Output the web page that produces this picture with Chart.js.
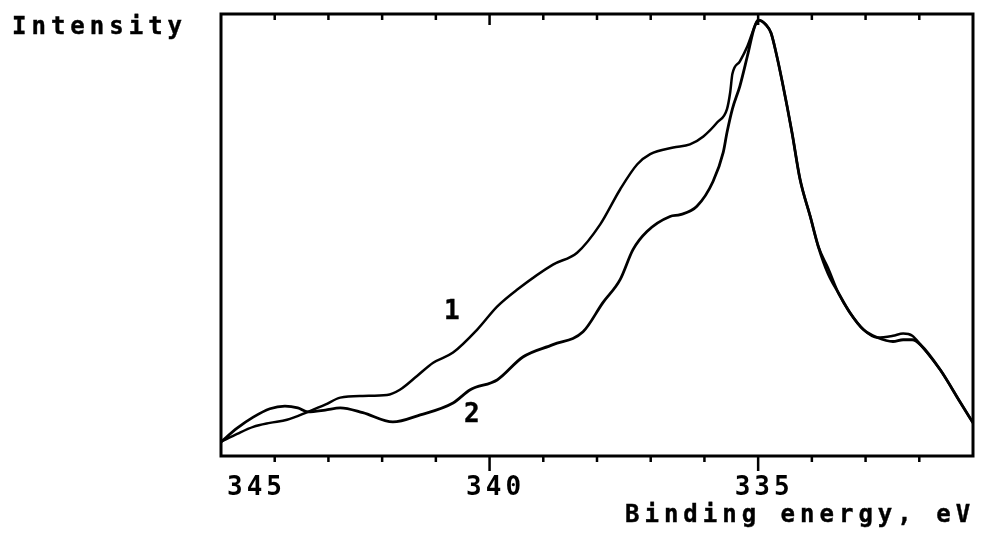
<!DOCTYPE html>
<html>
<head>
<meta charset="utf-8">
<script src="https://cdn.jsdelivr.net/npm/chart.js@4"></script>
<style>
  html, body { margin: 0; padding: 0; background: #fff; }
  #wrap { position: relative; width: 982px; height: 549px; }
  .lbl {
    position: absolute;
    font-family: 'DejaVu Sans Mono', monospace;
    font-weight: bold;
    line-height: 1;
    color: #000;
    white-space: nowrap;
    -webkit-text-stroke: 0.4px #000;
  }
</style>
</head>
<body>
<div id="wrap">
  <canvas id="xps" width="982" height="549"></canvas>
  <div class="lbl" style="left:12px; top:14px; font-size:24px; letter-spacing:5px;">Intensity</div>
  <div class="lbl" style="left:625px; top:502px; font-size:24px; letter-spacing:5px;">Binding energy, eV</div>
  <div class="lbl" style="left:444px; top:297px; font-size:26px;">1</div>
  <div class="lbl" style="left:464px; top:400px; font-size:26px;">2</div>
</div>
<script>
// ── Data (binding energy in eV, intensity in arbitrary units) ──
const ENERGY_1 = [
  345.00, 344.70, 344.40, 344.09, 343.77, 343.38, 343.06, 342.78, 342.36, 341.91,
  341.67, 341.35, 341.05, 340.68, 340.23, 339.86, 339.49, 338.82, 338.37, 337.94,
  337.57, 337.25, 337.01, 336.58, 336.27, 336.02, 335.76, 335.58, 335.52, 335.48,
  335.34, 335.20, 335.06, 335.00, 334.85, 334.76, 334.66, 334.55, 334.37, 334.22,
  334.03, 333.88, 333.70, 333.51, 333.29, 333.04, 332.78, 332.49, 332.30, 332.13,
  331.98, 331.61, 331.24, 331.00
];
const INTENSITY_1 = [
  3.2, 5.0, 6.6, 7.5, 8.2, 10.0, 11.6, 13.2, 13.6, 13.8,
  15.0, 18.1, 21.1, 23.4, 28.6, 33.8, 37.6, 43.3, 46.0, 52.4,
  60.3, 66.0, 68.3, 69.8, 70.5, 72.3, 75.5, 78.5, 82.3, 86.4,
  89.3, 92.7, 97.3, 98.6, 97.5, 95.7, 90.9, 84.6, 73.2, 62.6,
  54.2, 47.4, 42.6, 37.0, 32.4, 28.6, 26.8, 27.2, 27.7, 27.2,
  25.2, 19.5, 12.2, 7.5
];

const ENERGY_2 = [
  345.00, 344.70, 344.40, 344.09, 343.81, 343.57, 343.38, 343.06, 342.78, 342.36,
  341.80, 341.29, 340.68, 340.36, 339.86, 339.38, 338.82, 338.26, 337.89, 337.57,
  337.33, 337.07, 336.64, 336.45, 336.14, 335.84, 335.65, 335.58, 335.48, 335.34,
  335.20, 335.07, 335.00, 334.85, 334.76, 334.66, 334.55, 334.37, 334.22, 334.03,
  333.88, 333.70, 333.51, 333.29, 333.04, 332.78, 332.49, 332.30, 332.13, 331.98,
  331.61, 331.24, 331.00
];
const INTENSITY_2 = [
  3.2, 6.3, 8.8, 10.7, 11.3, 10.9, 10.0, 10.4, 10.9, 9.8,
  7.7, 9.3, 12.0, 15.0, 17.2, 22.4, 25.2, 28.1, 34.7, 39.9,
  46.7, 50.8, 54.2, 54.6, 56.5, 62.1, 68.7, 73.2, 78.5, 83.7,
  90.5, 97.0, 98.6, 97.5, 95.7, 90.9, 84.6, 73.2, 62.6, 54.2,
  47.4, 41.3, 37.0, 32.4, 28.6, 26.8, 25.9, 26.3, 26.3, 25.2,
  19.5, 12.2, 7.5
];

// axis ticks: every 1 eV, labelled every 5 eV
const ENERGY_TICKS = [331, 332, 333, 334, 335, 336, 337, 338, 339, 340, 341, 342, 343, 344, 345];
const LABELLED_TICKS = [345, 340, 335];

const FONT = 'DejaVu Sans Mono';

function toPoints(xs, ys) {
    return xs.map((x, i) => ({ x: x, y: ys[i] }));
}

// Frame plus the small tick marks (inward on top, outward on bottom)
const framePlugin = {
    id: 'frame',
    beforeDraw(chart) {
        chart.ctx.letterSpacing = '4px';
    },
    afterDraw(chart) {
        const { ctx, chartArea: { left, right, top, bottom }, scales: { x } } = chart;
        ctx.save();
        ctx.strokeStyle = '#000';
        ctx.lineWidth = 3;
        ctx.strokeRect(left, top, right - left, bottom - top);
        ctx.lineWidth = 2.5;
        ENERGY_TICKS.forEach(v => {
            const px = x.getPixelForValue(v);
            if (px <= left + 2 || px >= right - 2) return;
            const major = LABELLED_TICKS.includes(v);
            ctx.beginPath();
            ctx.moveTo(px, top);
            ctx.lineTo(px, top + (major ? 11 : 6));
            ctx.moveTo(px, bottom);
            ctx.lineTo(px, bottom + (major ? 15 : 6));
            ctx.stroke();
        });
        ctx.restore();
    }
};

new Chart(document.getElementById('xps'), {
    type: 'line',
    data: {
        datasets: [
            {
                label: '1',
                data: toPoints(ENERGY_1, INTENSITY_1),
                borderColor: '#000',
                borderWidth: 2.5,
                pointRadius: 0,
                cubicInterpolationMode: 'monotone',
            },
            {
                label: '2',
                data: toPoints(ENERGY_2, INTENSITY_2),
                borderColor: '#000',
                borderWidth: 2.8,
                pointRadius: 0,
                cubicInterpolationMode: 'monotone',
            }
        ]
    },
    options: {
        responsive: false,
        animation: false,
        layout: {
            padding: { left: 221, right: 9, top: 14, bottom: 0 }
        },
        plugins: {
            legend: { display: false },
            tooltip: { enabled: false }
        },
        scales: {
            x: {
                type: 'linear',
                min: 331,
                max: 345,
                reverse: true,
                border: { display: false },
                grid: { display: false, drawTicks: false },
                afterBuildTicks: (scale) => {
                    scale.ticks = ENERGY_TICKS.map(v => ({ value: v }));
                },
                afterFit: (scale) => {
                    scale.height = 93;
                },
                ticks: {
                    autoSkip: false,
                    maxRotation: 0,
                    align: 'inner',
                    labelOffset: 6,
                    padding: 17,
                    color: '#000',
                    font: { family: FONT, size: 26, weight: 'bold' },
                    callback: (v) => LABELLED_TICKS.includes(v) ? String(v) : ''
                }
            },
            y: {
                display: false,
                min: 0,
                max: 100
            }
        }
    },
    plugins: [framePlugin]
});
</script>
</body>
</html>
